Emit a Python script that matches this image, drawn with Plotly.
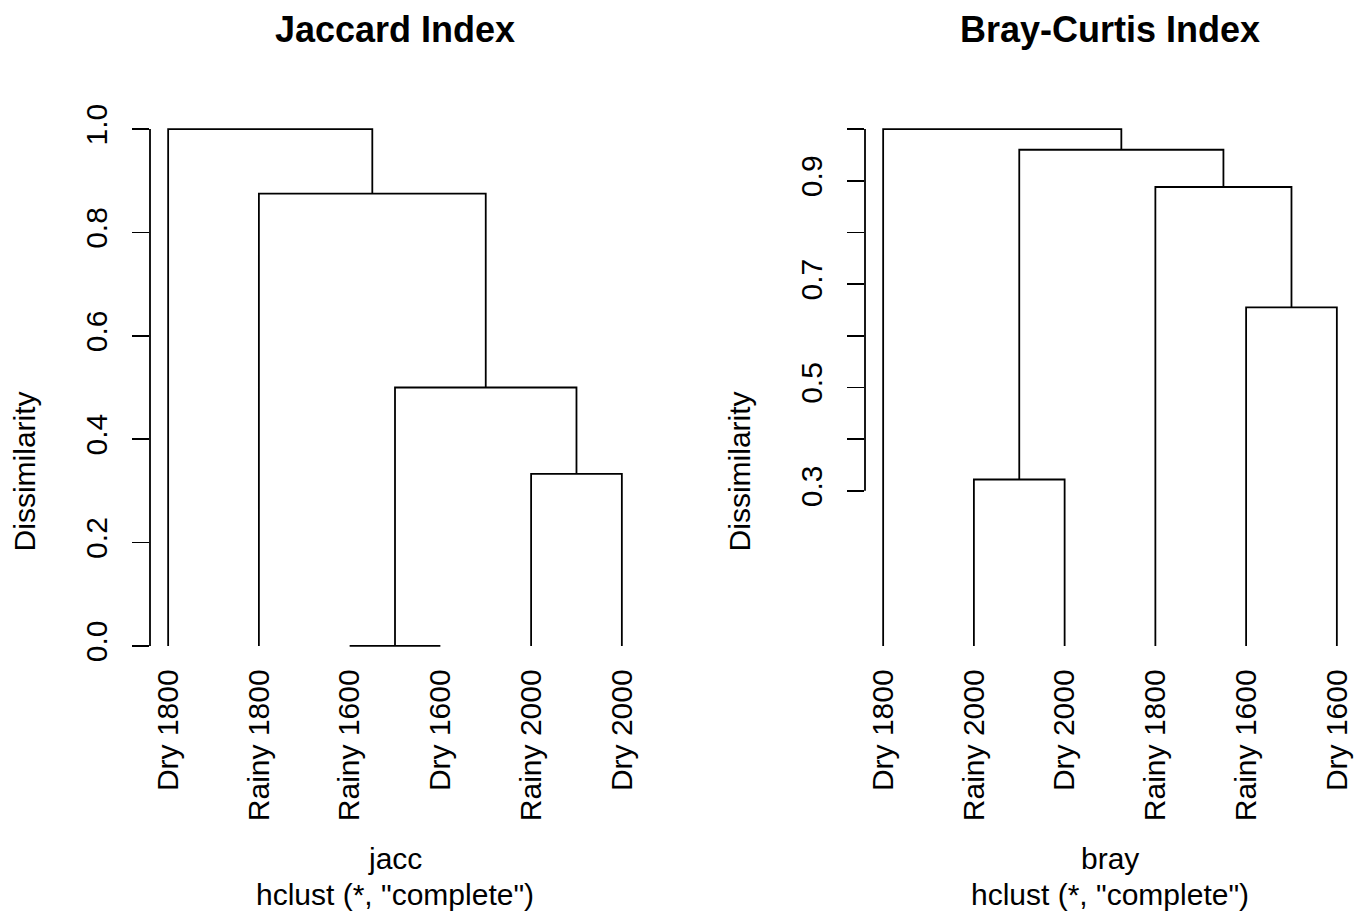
import plotly.graph_objects as go

# ---------------- data ----------------
jacc_labels = ["Dry 1800", "Rainy 1800", "Rainy 1600", "Dry 1600", "Rainy 2000", "Dry 2000"]
# R-style merge matrix (negative = leaf position in plotted order, positive = earlier merge)
jacc_merge = [(-3, -4), (-5, -6), (1, 2), (-2, 3), (-1, 4)]
jacc_height = [0.0, 0.333, 0.5, 0.875, 1.0]
jacc_ticks = [0.0, 0.2, 0.4, 0.6, 0.8, 1.0]
jacc_ticktext = ["0.0", "0.2", "0.4", "0.6", "0.8", "1.0"]

bray_labels = ["Dry 1800", "Rainy 2000", "Dry 2000", "Rainy 1800", "Rainy 1600", "Dry 1600"]
bray_merge = [(-2, -3), (-5, -6), (-4, 2), (1, 3), (-1, 4)]
bray_height = [0.322, 0.655, 0.888, 0.960, 1.0]
bray_ticks = [0.3, 0.4, 0.5, 0.6, 0.7, 0.8, 0.9, 1.0]
bray_ticktext = ["0.3", "", "0.5", "", "0.7", "", "0.9", ""]

W, H = 1358, 911
FONT = "Liberation Sans, Arial, Helvetica, sans-serif"
LW = 1.8


def dendro_segments(merge, height):
    xs, ys = [], []
    node_x, node_h = {}, {}

    def pos(k):
        if k < 0:
            return float(-k), 0.0
        return node_x[k], node_h[k]

    for i, (a, b) in enumerate(merge, start=1):
        xa, ha = pos(a)
        xb, hb = pos(b)
        h = height[i - 1]
        xs += [xa, xa, xb, xb, None]
        ys += [ha, h, h, hb, None]
        node_x[i] = (xa + xb) / 2.0
        node_h[i] = h
    return xs, ys


fig = go.Figure()

jx, jy = dendro_segments(jacc_merge, jacc_height)
bx, by = dendro_segments(bray_merge, bray_height)

fig.add_trace(go.Scatter(x=jx, y=jy, mode="lines", line=dict(color="black", width=LW),
                         xaxis="x", yaxis="y", showlegend=False, hoverinfo="skip"))
fig.add_trace(go.Scatter(x=bx, y=by, mode="lines", line=dict(color="black", width=LW),
                         xaxis="x2", yaxis="y2", showlegend=False, hoverinfo="skip"))

# pixel layout helpers
def px_x(p):
    return p / W

def px_y(p):
    return (H - p) / H

y_dom = [px_y(665.2), px_y(104.0)]
yrange = [-0.04, 1.04]
left_dom = [px_x(150), px_x(640)]
right_dom = [px_x(865), px_x(1355)]
xrange = [0.8, 6.2]
label_axis_pos = px_y(661.0)

common_x = dict(range=xrange, showgrid=False, zeroline=False, showline=False, ticks="",
                tickangle=-90, tickfont=dict(family=FONT, size=30, color="black"),
                tickvals=list(range(1, 7)), ticklabelstandoff=0, fixedrange=True,
                anchor="free", position=label_axis_pos)
common_y = dict(range=yrange, domain=y_dom, showgrid=False, zeroline=False, showline=False,
                ticks="outside", ticklen=17, tickwidth=LW, tickcolor="black", tickangle=-90,
                tickfont=dict(family=FONT, size=30, color="black"), ticklabelstandoff=13,
                fixedrange=True)

fig.update_layout(
    width=W, height=H,
    margin=dict(l=0, r=0, t=0, b=0),
    paper_bgcolor="white", plot_bgcolor="white",
    xaxis=dict(domain=left_dom, ticktext=jacc_labels, **common_x),
    yaxis=dict(anchor="x", tickvals=jacc_ticks, ticktext=jacc_ticktext, **common_y),
    xaxis2=dict(domain=right_dom, ticktext=bray_labels, **common_x),
    yaxis2=dict(anchor="x2", tickvals=bray_ticks, ticktext=bray_ticktext, **common_y),
)

# axis lines spanning first to last tick (R style)
for xd, ticks, yref in [(left_dom[0], jacc_ticks, "y"), (right_dom[0], bray_ticks, "y2")]:
    fig.add_shape(type="line", xref="paper", yref=yref, x0=xd, x1=xd,
                  y0=ticks[0], y1=ticks[-1], line=dict(color="black", width=LW))

def ann(text, x, y, size=30, bold=False, angle=0):
    fig.add_annotation(text=("<b>%s</b>" % text) if bold else text,
                       x=px_x(x), y=px_y(y), xref="paper", yref="paper",
                       showarrow=False, textangle=angle, xanchor="center", yanchor="middle",
                       font=dict(family=FONT, size=size, color="black"))

for cx, title, sub in [(395, "Jaccard Index", "jacc"), (1110, "Bray-Curtis Index", "bray")]:
    ann(title, cx, 25, size=36, bold=True)
    ann(sub, cx, 858)
    ann('hclust (*, "complete")', cx, 894)

ann("Dissimilarity", 24, 469, angle=-90)
ann("Dissimilarity", 739, 469, angle=-90)

fig.write_html("out.html",
               config={"displayModeBar": False, "staticPlot": True},
               post_script="document.body.style.margin='0';"
                           "document.documentElement.style.overflow='hidden';")
